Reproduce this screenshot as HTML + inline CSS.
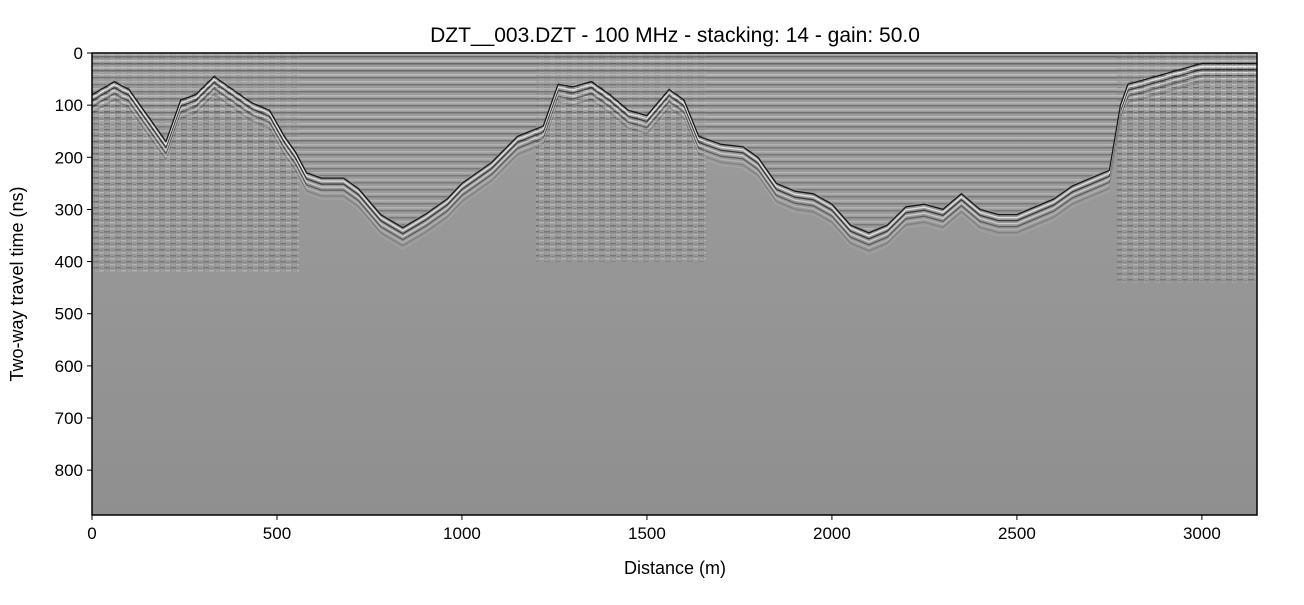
<!DOCTYPE html>
<html><head><meta charset="utf-8"><style>
body{margin:0;background:#fff;width:1304px;height:600px;overflow:hidden;font-family:"Liberation Sans","DejaVu Sans",sans-serif}
</style></head><body>
<svg id="chart" width="1304" height="600" xmlns="http://www.w3.org/2000/svg">
<defs>
<linearGradient id="bg" x1="0" y1="0" x2="0" y2="1"><stop offset="0" stop-color="#9d9d9d"/><stop offset="1" stop-color="#8f8f8f"/></linearGradient>
<linearGradient id="fade" x1="0" y1="0" x2="0" y2="1"><stop offset="0" stop-color="#fff" stop-opacity="1"/><stop offset="1" stop-color="#fff" stop-opacity="0"/></linearGradient>
<mask id="fademask"><rect x="0" y="0" width="1304" height="600" fill="url(#fade)"/></mask>
<pattern id="stripes" width="7" height="7" patternUnits="userSpaceOnUse"><rect width="7" height="7" fill="#9c9c9c"/><rect y="0" width="7" height="1.5" fill="#3a3a3a"/><rect y="4" width="7" height="1.5" fill="#dedede"/></pattern>
<pattern id="noise" width="11" height="6" patternUnits="userSpaceOnUse"><rect width="11" height="6" fill="#999"/><rect x="0" y="0" width="5" height="1.5" fill="#eee"/><rect x="5" y="3" width="6" height="1.5" fill="#333"/><rect x="1" y="4" width="3" height="1" fill="#666"/><rect x="7" y="0.5" width="3" height="1" fill="#ccc"/></pattern>
<clipPath id="plotclip"><rect x="92" y="53" width="1165" height="462"/></clipPath>
</defs>
<text x="675" y="42" text-anchor="middle" font-size="21" fill="#000">DZT__003.DZT - 100 MHz - stacking: 14 - gain: 50.0</text>
<g id="plot" clip-path="url(#plotclip)"></g>
<rect x="92" y="53" width="1165" height="462" fill="none" stroke="#000" stroke-width="1.5"/>
<g id="axes"></g>
<text x="675" y="574" text-anchor="middle" font-size="18">Distance (m)</text>
<text transform="translate(23,284) rotate(-90)" text-anchor="middle" font-size="18">Two-way travel time (ns)</text>
</svg>
<script>
const dist=[0,60,100,150,200,240,280,330,380,430,480,520,550,580,620,680,720,780,840,900,960,1000,1080,1150,1220,1260,1300,1350,1400,1450,1500,1560,1600,1640,1700,1760,1800,1850,1900,1950,2000,2050,2100,2150,2200,2250,2300,2350,2400,2450,2500,2600,2650,2750,2780,2800,3000,3150];
const depth=[80,55,70,120,170,90,80,45,70,95,110,160,190,230,240,240,260,310,335,310,280,250,210,160,140,60,65,55,80,110,120,70,90,160,175,180,200,250,265,270,290,330,345,330,295,290,300,270,300,310,310,280,255,225,100,60,20,20];
const roughStart=[0,1200,2770];
const roughEnd=[560,1660,3150];
const roughDepth=[420,400,440];
const xTicks=[0,500,1000,1500,2000,2500,3000];
const yTicks=[0,100,200,300,400,500,600,700,800];
const L=92,T=53,W=1165,H=462,XMAX=3149,YMAX=886;
const sx=d=>L+d/XMAX*W, sy=t=>T+t/YMAX*H;
const NS="http://www.w3.org/2000/svg";
const plot=document.getElementById('plot'),axes=document.getElementById('axes');
function mk(tag,attrs,parent){const e=document.createElementNS(NS,tag);for(const k in attrs)e.setAttribute(k,attrs[k]);parent.appendChild(e);return e;}
let bg=mk('rect',{x:L,y:T,width:W,height:H,fill:'url(#bg)'},plot);


let band=mk('rect',{x:L,y:T,width:W,height:sy(170)-T,fill:'url(#stripes)',opacity:0.3},plot);


let band2=mk('rect',{x:L,y:T,width:W,height:sy(45)-T,fill:'url(#stripes)',opacity:0.55},plot);


roughStart.forEach((s,i)=>{
  let r=mk('rect',{x:sx(s),y:T,width:sx(roughEnd[i])-sx(s),height:sy(roughDepth[i])-T,fill:'url(#noise)',opacity:0.55,mask:'url(#fademask)'},plot);
  
  
});
// mask above surface to restore banding look
let above='M'+sx(0)+','+T+' '+dist.map((d,i)=>'L'+sx(d).toFixed(1)+','+(sy(depth[i])-2).toFixed(1)).join(' ')+' L'+sx(XMAX)+','+T+'Z';
let ab=mk('path',{d:above,fill:'#9c9c9c',opacity:0.6},plot);


let ab2=mk('path',{d:above,fill:'url(#stripes)',opacity:0.35},plot);


function linePath(off){return dist.map((d,i)=>(i?'L':'M')+sx(d).toFixed(1)+','+(sy(depth[i])+off).toFixed(1)).join(' ');}
for(let k=7;k>=0;k--){
  let p=mk('path',{d:linePath(k*3),fill:'none',stroke:k%2?'#f0f0f0':'#111',"stroke-width":1.3,"stroke-linejoin":"round",opacity:Math.max(0.12,0.95-k*0.13)},plot);
  
  
}
xTicks.forEach(v=>{
  let t=mk('line',{x1:sx(v),x2:sx(v),y1:T+H,y2:T+H+5,stroke:'#000'},axes);
  
  
  let l=mk('text',{x:sx(v),y:T+H+24,'text-anchor':'middle','font-size':17},axes);l.textContent=v;
  
  
});
yTicks.forEach(v=>{
  let t=mk('line',{x1:L-5,x2:L,y1:sy(v),y2:sy(v),stroke:'#000'},axes);
  
  
  let l=mk('text',{x:L-9,y:sy(v)+6,'text-anchor':'end','font-size':17},axes);l.textContent=v;
  
  
});
</script>
</body></html>
